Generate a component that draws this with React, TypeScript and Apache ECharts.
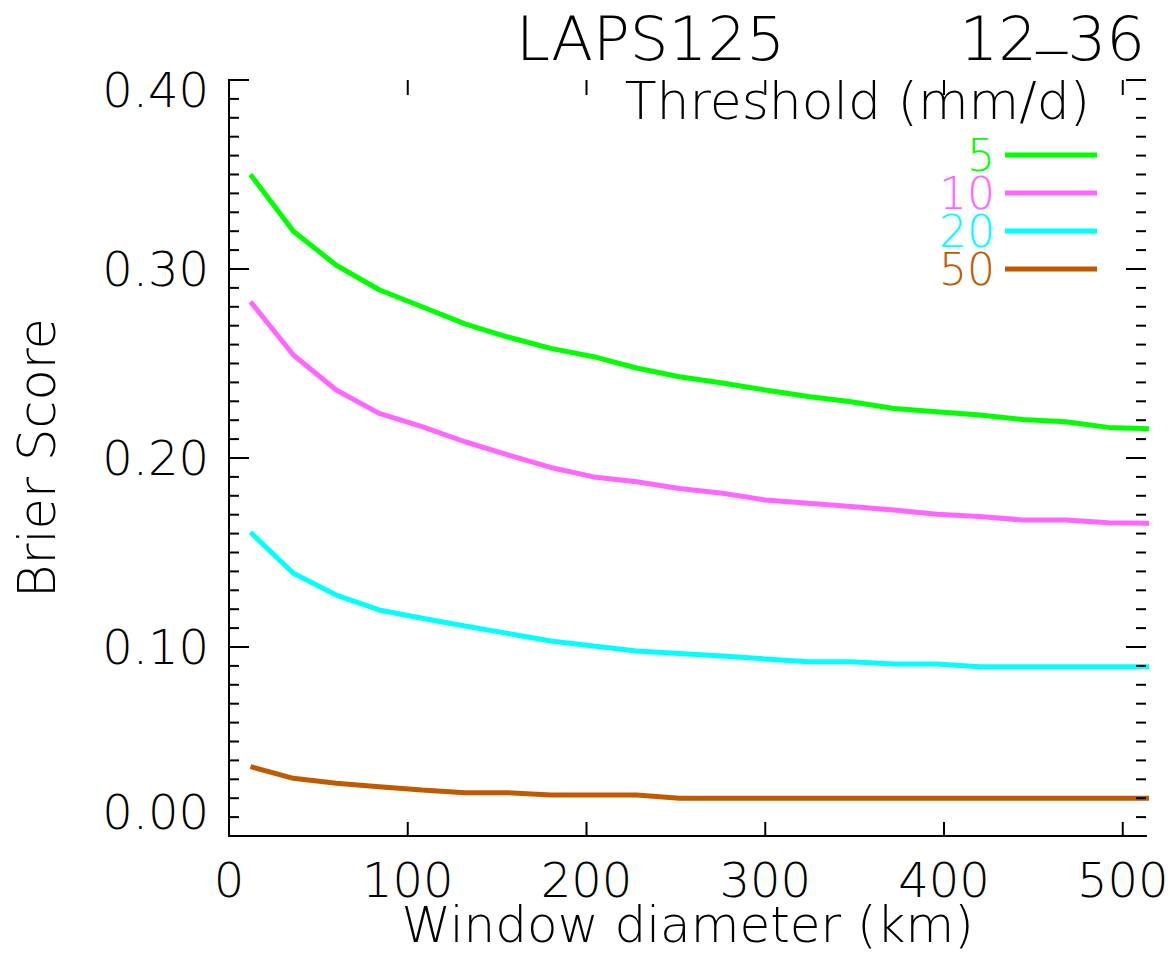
import React, { useEffect, useRef } from "react";
import * as echarts from "echarts";

const diameters = [12, 36, 60, 84, 108, 132, 156, 180, 204, 228, 252, 276, 300, 324, 348, 372, 396, 420, 444, 468, 492, 516];
const bs5 = [0.350, 0.320, 0.302, 0.289, 0.280, 0.271, 0.264, 0.258, 0.2536, 0.2476, 0.243, 0.2397, 0.236, 0.2325, 0.2298, 0.2262, 0.2245, 0.2228, 0.2204, 0.2192, 0.2162, 0.2155];
const bs10 = [0.2827, 0.2545, 0.236, 0.2236, 0.2166, 0.2086, 0.2016, 0.195, 0.190, 0.1874, 0.1839, 0.1813, 0.1778, 0.176, 0.1743, 0.1725, 0.1702, 0.169, 0.1672, 0.1672, 0.1657, 0.1655];
const bs20 = [0.1607, 0.139, 0.1275, 0.1196, 0.1152, 0.1111, 0.1072, 0.1032, 0.1005, 0.0979, 0.0966, 0.0952, 0.0937, 0.0922, 0.0922, 0.091, 0.091, 0.0896, 0.0896, 0.0896, 0.0896, 0.0896];
const bs50 = [0.0367, 0.0305, 0.0279, 0.0261, 0.0243, 0.0229, 0.0229, 0.0217, 0.0217, 0.0217, 0.020, 0.020, 0.020, 0.020, 0.020, 0.020, 0.020, 0.020, 0.020, 0.020, 0.020, 0.020];

const thresholds = ["5", "10", "20", "50"];
const seriesValues = [bs5, bs10, bs20, bs50];
const colors = ["#00ff00", "#ff66ff", "#00ffff", "#c05a00"];

// axis ranges and tick positions (axis units)
const X_MAX = 513;
const Y_MAX = 0.4;
const xMajorTicks = [0, 100, 200, 300, 400, 500];
const yMajorTicks = [0, 0.1, 0.2, 0.3, 0.4];
const yMinorTicks = [
  0.01, 0.02, 0.03, 0.04, 0.05, 0.06, 0.07, 0.08, 0.09,
  0.11, 0.12, 0.13, 0.14, 0.15, 0.16, 0.17, 0.18, 0.19,
  0.21, 0.22, 0.23, 0.24, 0.25, 0.26, 0.27, 0.28, 0.29,
  0.31, 0.32, 0.33, 0.34, 0.35, 0.36, 0.37, 0.38, 0.39,
];

const titleLeft = "LAPS125";
const titleRight = "12_36";
const legendTitle = "Threshold (mm/d)";
const xName = "Window diameter (km)";
const yName = "Brier Score";

const FONT = "DejaVu Sans";

export default function App() {
  const ref = useRef<HTMLDivElement>(null);
  useEffect(() => {
    if (!ref.current) return;
    const chart = echarts.init(ref.current, null, { renderer: "svg" });
    const textBase = { fontFamily: FONT, fontWeight: 200 as any, color: "#000" };
    const axisLine = { show: true, lineStyle: { color: "#000", width: 2 } };
    const xCommon = { type: "value", min: 0, max: X_MAX, interval: 100, splitLine: { show: false }, axisTick: { show: false } };
    const yCommon = { type: "value", min: 0, max: Y_MAX, interval: 0.1, splitLine: { show: false }, axisTick: { show: false } };

    // tick data: [side (0 left, 1 right, 2 bottom, 3 top), value, length]
    const tickData: number[][] = [];
    yMajorTicks.forEach((v) => { tickData.push([0, v, 20]); tickData.push([1, v, 20]); });
    yMinorTicks.forEach((v) => { tickData.push([0, v, 10]); tickData.push([1, v, 10]); });
    xMajorTicks.forEach((v) => { tickData.push([2, v, 14]); tickData.push([3, v, 15]); });
    const tickStroke = { stroke: "#000", lineWidth: 2 };

    // split "12_36" so that the underscore sits on the baseline as in the original
    const [rA, rB] = titleRight.split("_");
    const titleFont = `200 61px ${FONT}`;

    chart.setOption({
      animation: false,
      backgroundColor: "#fff",
      grid: { left: 229, right: 24, top: 80, bottom: 122, containLabel: false, outerBoundsMode: "none" },
      xAxis: [
        {
          ...xCommon, position: "bottom", axisLine,
          axisLabel: { ...textBase, fontSize: 48, margin: 20, showMaxLabel: false },
          name: xName, nameLocation: "middle", nameGap: 64, nameMoveOverlap: false,
          nameTextStyle: { ...textBase, fontSize: 50 },
        },
        { ...xCommon, position: "top", axisLine, axisLabel: { show: false } },
      ],
      yAxis: [
        {
          ...yCommon, position: "left", axisLine,
          axisLabel: {
            ...textBase, fontSize: 48, margin: 20,
            formatter: (v: number) => (v >= 0.399 ? "{top|" + v.toFixed(2) + "}" : v.toFixed(2)),
            verticalAlignMinLabel: "bottom",
            rich: { top: { ...textBase, fontSize: 48, padding: [20, 0, 0, 0] } },
          },
          name: yName, nameLocation: "middle", nameGap: 166, nameRotate: 90,
          nameTextStyle: { ...textBase, fontSize: 51 },
        },
        { ...yCommon, position: "right", axisLine, axisLabel: { show: false } },
      ],
      legend: {
        orient: "vertical", right: 73, top: 133, align: "right", padding: 0,
        icon: "rect", itemWidth: 92, itemHeight: 5, itemGap: -6,
        selectedMode: false,
        textStyle: { ...textBase, fontSize: 44, padding: [0, 5, 0, 0] },
        data: thresholds.map((t, i) => ({ name: t, textStyle: { color: colors[i] } })),
      },
      graphic: [
        { type: "text", right: 385, top: 8, style: { text: titleLeft, font: titleFont, fill: "#000" } },
        { type: "text", right: 25, top: 8, style: { text: rB, font: titleFont, fill: "#000" } },
        { type: "text", right: 103, top: -12, style: { text: "_", font: titleFont, fill: "#000" } },
        { type: "text", right: 133, top: 8, style: { text: rA, font: titleFont, fill: "#000" } },
        { type: "text", right: 80, top: 75, style: { text: legendTitle, font: `200 52px ${FONT}`, fill: "#000" } },
      ],
      series: [
        ...thresholds.map((t, i) => ({
          name: t, type: "line", xAxisIndex: 0, yAxisIndex: 0,
          data: diameters.map((d, j) => [d, seriesValues[i][j]]),
          showSymbol: false, symbol: "none",
          lineStyle: { color: colors[i], width: 5 },
          itemStyle: { color: colors[i] },
          clip: true,
        })),
        {
          name: "ticks", type: "custom", xAxisIndex: 0, yAxisIndex: 0,
          silent: true, clip: false, z: 5,
          encode: { x: -1, y: -1 },
          data: tickData,
          renderItem: (params: any, api: any) => {
            const side = api.value(0);
            const v = api.value(1);
            const len = api.value(2);
            let shape;
            if (side === 0) {
              const p = api.coord([0, v]);
              shape = { x1: p[0], y1: p[1], x2: p[0] + len, y2: p[1] };
            } else if (side === 1) {
              const p = api.coord([X_MAX, v]);
              shape = { x1: p[0] - len, y1: p[1], x2: p[0], y2: p[1] };
            } else if (side === 2) {
              const p = api.coord([v, 0]);
              shape = { x1: p[0], y1: p[1] - len, x2: p[0], y2: p[1] };
            } else {
              const p = api.coord([v, Y_MAX]);
              shape = { x1: p[0], y1: p[1], x2: p[0], y2: p[1] + len };
            }
            return { type: "line", shape, style: tickStroke };
          },
        },
      ],
    });
    return () => chart.dispose();
  }, []);
  return <div ref={ref} style={{ position: "fixed", left: 0, top: 0, width: 1170, height: 958 }} />;
}
